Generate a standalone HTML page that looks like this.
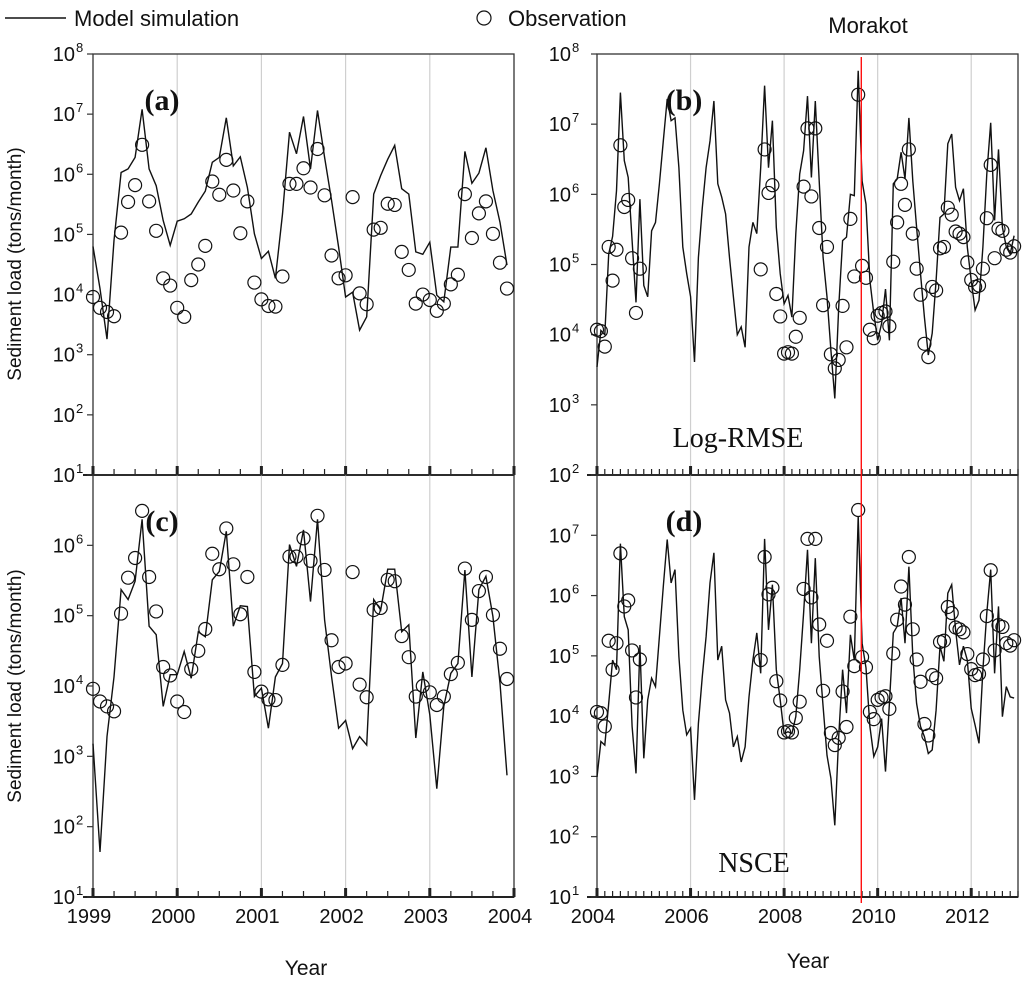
<!DOCTYPE html>
<html><head><meta charset="utf-8"><style>
html,body{margin:0;padding:0;background:#fff;}
svg{display:block;font-family:"Liberation Sans",Arial,sans-serif;}
</style></head><body>
<svg id="chart" width="1024" height="982" viewBox="0 0 1024 982"></svg>
<script>
// ---- data (log10 of sediment load, tons/month), monthly ----
const modelA = [4.80,4.10,3.26,4.90,6.03,6.09,6.28,7.08,6.09,5.81,5.23,4.82,5.22,5.26,5.34,5.54,5.72,6.20,6.28,6.94,6.14,6.29,5.78,5.01,4.60,4.72,4.27,5.34,6.70,6.34,6.96,6.09,7.06,6.28,5.56,4.79,3.96,4.04,3.41,3.63,5.67,5.98,6.25,6.48,5.76,5.67,4.71,4.67,4.87,3.99,3.88,4.79,4.79,6.38,5.85,6.02,6.44,5.73,5.20,4.49];
const modelC = [3.18,1.64,3.28,4.13,5.37,5.23,5.49,6.37,4.85,4.73,3.71,4.16,4.16,4.49,4.11,4.77,4.70,5.51,5.63,6.20,4.85,5.14,5.13,3.85,3.97,3.40,4.13,4.32,6.01,5.70,6.22,5.20,6.37,4.94,4.13,3.40,3.51,3.11,3.28,3.16,5.23,5.08,5.66,5.66,4.77,4.87,3.26,4.20,3.59,2.54,3.71,4.18,4.32,5.65,4.13,5.37,5.56,4.99,4.04,2.73];
const obsAC = [3.96,3.78,3.71,3.64,5.03,5.54,5.82,6.49,5.55,5.06,4.27,4.15,3.78,3.63,4.24,4.50,4.81,5.88,5.66,6.24,5.73,5.02,5.55,4.20,3.92,3.81,3.80,4.30,5.84,5.84,6.10,5.78,6.42,5.65,4.65,4.27,4.32,5.62,4.02,3.84,5.08,5.11,5.51,5.49,4.71,4.41,3.85,4.00,3.91,3.73,3.85,4.17,4.33,5.67,4.94,5.35,5.55,5.01,4.53,4.10];
const modelB = [3.54,4.06,4.00,5.15,5.40,6.05,7.45,6.48,6.24,5.34,4.46,5.93,4.70,4.54,5.48,5.60,6.15,6.76,7.36,7.05,7.09,6.38,5.25,4.87,4.54,3.61,5.10,5.81,6.38,6.76,7.33,6.15,5.96,5.72,5.10,4.54,4.00,4.11,3.82,5.25,5.60,5.44,6.38,7.55,6.38,7.05,5.53,4.87,4.44,4.56,4.25,5.44,6.29,6.62,7.40,6.24,7.33,6.19,5.10,4.54,3.78,3.09,4.39,5.34,5.39,6.00,5.98,7.76,6.19,5.86,4.77,4.30,3.92,4.16,4.65,3.92,6.15,6.22,6.60,6.22,7.09,6.19,5.53,4.87,4.25,3.71,4.02,4.77,5.67,5.72,6.72,6.86,6.10,5.91,6.08,5.25,4.77,4.35,4.49,5.25,6.29,7.02,5.63,6.64,5.53,5.25,5.15,5.41];
const modelD = [2.99,3.58,3.52,4.21,4.93,4.77,6.86,5.65,5.43,3.83,3.05,5.18,3.30,4.27,4.63,4.49,5.32,6.15,6.93,6.21,6.43,4.99,4.10,3.69,3.80,2.61,3.88,4.66,5.32,6.21,6.71,4.93,5.16,4.27,4.05,3.49,3.66,3.24,3.49,4.32,4.93,5.38,4.71,6.94,5.43,6.18,4.77,4.27,3.71,3.74,3.71,3.99,4.77,5.71,6.76,5.21,6.62,4.99,4.16,3.35,2.97,2.19,3.66,4.77,4.05,5.35,4.93,7.32,5.21,4.80,3.83,3.33,3.49,3.96,3.08,4.21,5.38,5.49,5.96,5.21,6.48,4.99,4.21,3.83,3.66,3.38,3.44,4.10,5.16,4.91,6.04,6.18,5.43,4.85,5.16,4.93,4.13,3.85,3.55,4.77,5.71,6.43,4.71,5.82,3.99,4.49,4.32,4.30];
const obsBD = [4.07,4.05,3.83,5.25,4.77,5.21,6.70,5.82,5.92,5.09,4.31,4.94,
 null,null,null,null,null,null,null,null,null,null,null,null,null,null,null,null,null,null,null,null,null,null,null,null,null,null,null,null,null,null,
 4.93,6.64,6.02,6.13,4.58,4.26,3.73,3.75,3.73,3.97,4.24,6.11,6.94,5.97,6.94,5.52,4.42,5.25,3.72,3.52,3.64,4.41,3.82,5.65,4.83,7.42,4.98,4.81,4.07,3.95,4.27,4.31,4.33,4.12,5.04,5.60,6.15,5.85,6.64,5.44,4.94,4.57,3.87,3.68,4.68,4.63,5.23,5.25,5.81,5.71,5.47,5.44,5.39,5.03,4.78,4.68,4.70,4.94,5.66,6.42,5.09,5.51,5.48,5.21,5.17,5.26];
const yearTicksAC = [1999,2000,2001,2002,2003,2004];
const yearTicksBD = [2004,2006,2008,2010,2012];
const morakotYear = 2009.65;

const NS='http://www.w3.org/2000/svg';
const svg=document.getElementById('chart');
function mk(tag,attrs,parent){const e=document.createElementNS(NS,tag);for(const k in attrs)e.setAttribute(k,attrs[k]);(parent||svg).appendChild(e);return e;}

const panels=[
 {id:'a',x0:93,x1:514,y0:54,y1:475,t0:1999,t1:2004,lmin:1,lmax:8,labels:[1,2,3,4,5,6,7,8],model:modelA,obs:obsAC,ticks:yearTicksAC,lab:'(a)',labX:162,lx:84},
 {id:'b',x0:597,x1:1018,y0:54,y1:475,t0:2004,t1:2013,lmin:2,lmax:8,labels:[2,3,4,5,6,7,8],model:modelB,obs:obsBD,ticks:yearTicksBD,lab:'(b)',labX:684,lx:580},
 {id:'c',x0:93,x1:514,y0:475,y1:897,t0:1999,t1:2004,lmin:1,lmax:7,labels:[1,2,3,4,5,6],model:modelC,obs:obsAC,ticks:yearTicksAC,lab:'(c)',labX:162,lx:84,xl:true},
 {id:'d',x0:597,x1:1018,y0:475,y1:897,t0:2004,t1:2013,lmin:1,lmax:8,labels:[1,2,3,4,5,6,7],model:modelD,obs:obsBD,ticks:yearTicksBD,lab:'(d)',labX:684,lx:580,xl:true}
];

panels.forEach(p=>{
 const g=mk('g',{});
 
 
 const X=t=>p.x0+(t-p.t0)/(p.t1-p.t0)*(p.x1-p.x0);
 const Y=l=>p.y1-(l-p.lmin)/(p.lmax-p.lmin)*(p.y1-p.y0);
 const Xm=i=>X(p.t0+i/12);
 // gridlines at major ticks
 p.ticks.forEach(y=>{if(y===p.t0||y===p.t1)return;
  const l=mk('line',{x1:X(y),x2:X(y),y1:p.y0,y2:p.y1,stroke:'#cfcfcf','stroke-width':1.2},g);
  
  });
 const fr=mk('rect',{x:p.x0,y:p.y0,width:p.x1-p.x0,height:p.y1-p.y0,fill:'none',stroke:'#333','stroke-width':1.3},g);
 
 
 mk('line',{x1:p.x0-10,x2:p.x1,y1:p.y1,y2:p.y1,stroke:'#222','stroke-width':2},g);
 p.labels.forEach(l=>{
  mk('line',{x1:p.x0-6,x2:p.x0,y1:Y(l),y2:Y(l),stroke:'#333','stroke-width':1.2},g);
  const t=mk('text',{x:p.lx-9,y:Y(l)+7,'font-size':20,'text-anchor':'end',fill:'#111'},g);
  t.textContent='10';
  
  
  const s=mk('text',{x:p.lx-8,y:Y(l)-2,'font-size':13,fill:'#111'},g);s.textContent=String(l);
 });
 const nMonths=(p.t1-p.t0)*12;
 const step=p.id==='a'||p.id==='c'?3:2;
 for(let i=0;i<=nMonths;i+=step){
  const yr=p.t0+i/12;const major=p.ticks.includes(yr)&&i%12===0;
  mk('line',{x1:Xm(i),x2:Xm(i),y1:p.y1,y2:p.y1-(major?9:6),stroke:'#222','stroke-width':major?3:1.2},g);
 }
 if(p.xl){p.ticks.forEach(y=>{const t=mk('text',{x:X(y)-4,y:p.y1+26,'font-size':20,'text-anchor':'middle',fill:'#111'},g);t.textContent=String(y);
  
  });}
 let d='';p.model.forEach((v,i)=>{d+=(i?'L':'M')+Xm(i).toFixed(1)+','+Y(v).toFixed(1);});
 const ln=mk('path',{d:d,fill:'none',stroke:'#111','stroke-width':1.4,'stroke-linejoin':'miter'},g);
 
 
 p.obs.forEach((v,i)=>{if(v===null)return;
  const c=mk('circle',{cx:Xm(i),cy:Y(v),r:6.5,fill:'none',stroke:'#111','stroke-width':1.2},g);
  
  });
 const pl=mk('text',{x:p.labX,y:p.y0+56,'font-size':30,'font-weight':'bold','font-family':'"Liberation Serif",serif','text-anchor':'middle',fill:'#111'},g);
 pl.textContent=p.lab;
 
 
});
const xr=597+(morakotYear-2004)/9*421;
const rl=mk('line',{x1:xr,x2:xr,y1:57,y2:903,stroke:'#ff1010','stroke-width':1.4});


</script>
<svg width="1024" height="982" style="position:absolute;left:0;top:0;pointer-events:none">
 <g>
  <line x1="5" x2="66" y1="18" y2="18" stroke="#111" stroke-width="1.5"/>
  <text x="74" y="26" font-size="22" fill="#111" font-family="Liberation Sans,sans-serif">Model simulation</text>
  <circle cx="484" cy="18" r="7" fill="none" stroke="#111" stroke-width="1.2"/>
  <text x="508" y="26" font-size="22" fill="#111" font-family="Liberation Sans,sans-serif">Observation</text>
 </g>
 <text x="868" y="33" font-size="22" text-anchor="middle" fill="#111" font-family="Liberation Sans,sans-serif">Morakot</text>
 <text x="738" y="447" font-size="28" text-anchor="middle" fill="#111" font-family="Liberation Serif,serif">Log-RMSE</text>
 <text x="754" y="872" font-size="28" text-anchor="middle" fill="#111" font-family="Liberation Serif,serif">NSCE</text>
 <text transform="translate(21,264) rotate(-90)" font-size="19" text-anchor="middle" fill="#111" font-family="Liberation Sans,sans-serif">Sediment load (tons/month)</text>
 <text transform="translate(21,686) rotate(-90)" font-size="19" text-anchor="middle" fill="#111" font-family="Liberation Sans,sans-serif">Sediment load (tons/month)</text>
 <text x="306" y="975" font-size="21" text-anchor="middle" fill="#111" font-family="Liberation Sans,sans-serif">Year</text>
 <text x="808" y="968" font-size="21" text-anchor="middle" fill="#111" font-family="Liberation Sans,sans-serif">Year</text>
</svg>
</body></html>
